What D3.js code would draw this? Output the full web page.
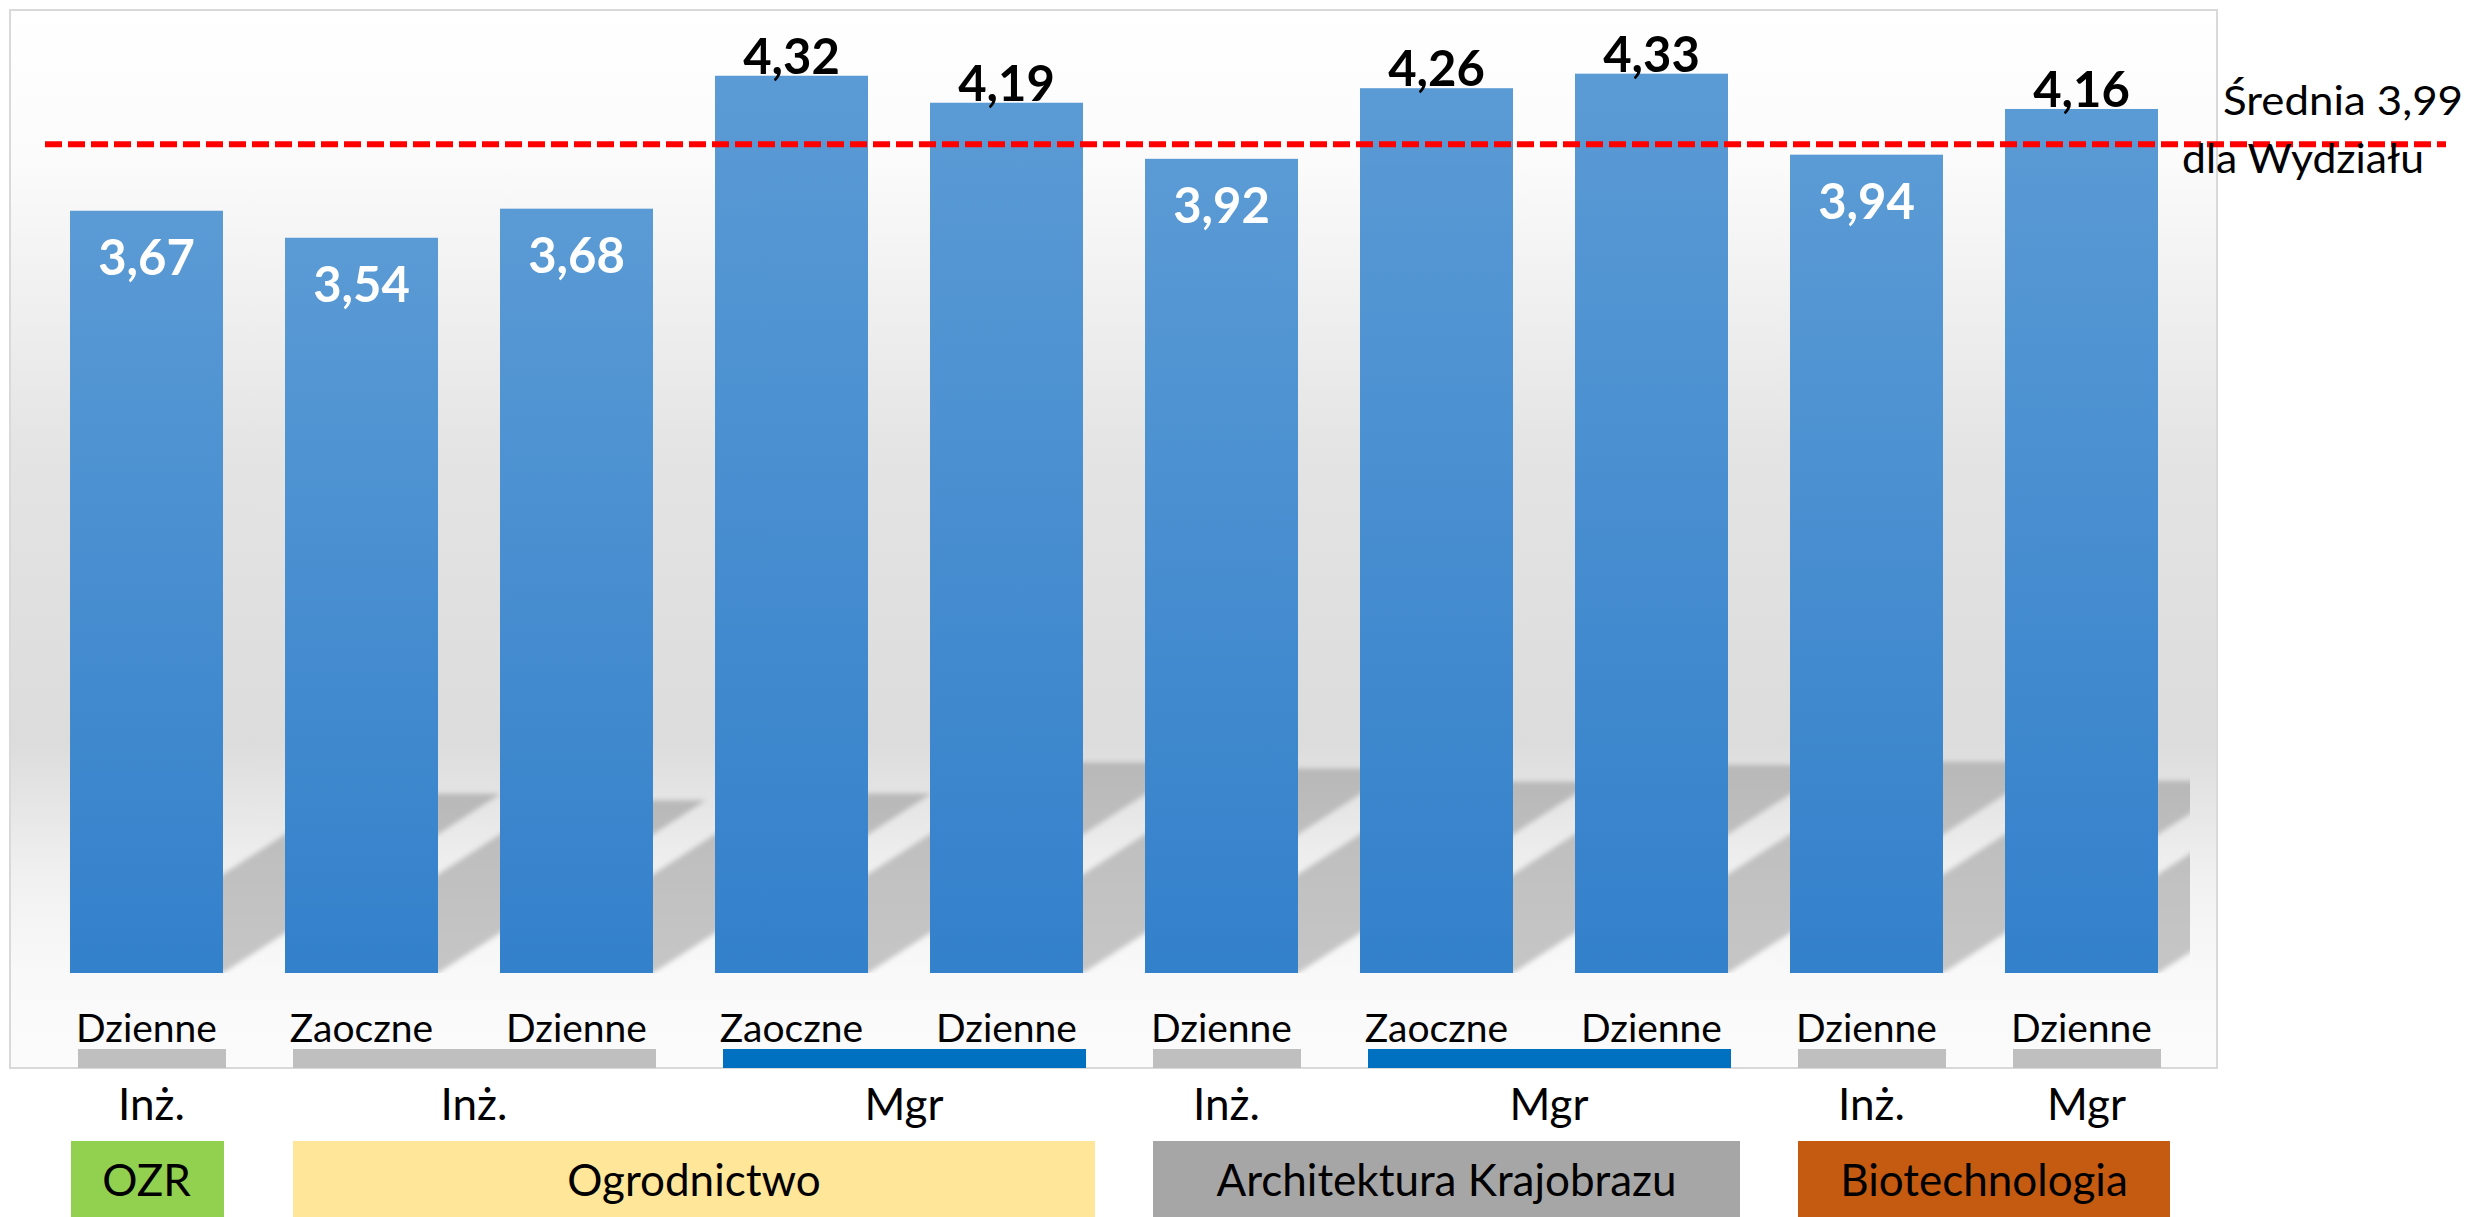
<!DOCTYPE html>
<html>
<head>
<meta charset="utf-8">
<script src="https://cdn.jsdelivr.net/npm/d3@7"></script>
<style>
  body { margin: 0; background: #fff; }
  svg { display: block; font-family: Lato, "Open Sans", sans-serif; }
</style>
</head>
<body>
<svg id="chart" width="2468" height="1217"></svg>
<script>
// data
var categories = ["Dzienne", "Zaoczne", "Dzienne", "Zaoczne", "Dzienne", "Dzienne", "Zaoczne", "Dzienne", "Dzienne", "Dzienne"];
var values = [3.67, 3.54, 3.68, 4.32, 4.19, 3.92, 4.26, 4.33, 3.94, 4.16];
var average = 3.99;
var averageLabel = ["Średnia 3,99", "dla Wydziału"];

var levelLabels = ["Inż.", "Inż.", "Mgr", "Inż.", "Mgr", "Inż.", "Mgr"];
var levelStart = [0, 1, 3, 5, 6, 8, 9];
var levelEnd = [0, 2, 4, 5, 7, 8, 9];

var fields = ["OZR", "Ogrodnictwo", "Architektura Krajobrazu", "Biotechnologia"];
var fieldStart = [0, 1, 5, 8];
var fieldEnd = [0, 4, 7, 9];

// styles
var fieldColors = ["#92D050", "#FFE699", "#A6A6A6", "#C55A11"];
var levelColors = ["#BFBFBF", "#BFBFBF", "#0070C0", "#BFBFBF", "#0070C0", "#BFBFBF", "#BFBFBF"];

var svg = d3.select("#chart");
var defs = svg.append("defs");

var plot = {left: 10, top: 10, right: 2217, bottom: 1068};
var baseY = 973;

var x = d3.scaleBand().domain(d3.range(values.length)).range([39, 2189])
    .paddingInner(0.2884).paddingOuter(0.1442);
var y = d3.scaleLinear().domain([0, 4.5]).range([baseY, baseY - 4.5 * 207.7]);
var bw = x.bandwidth();

// background gradient of the plot area
var bg = defs.append("linearGradient").attr("id", "bg")
    .attr("gradientUnits", "userSpaceOnUse")
    .attr("x1", 0).attr("y1", plot.top).attr("x2", 0).attr("y2", plot.bottom);
[[plot.top, "#ffffff"], [160, "#fbfbfb"], [450, "#e4e4e4"], [740, "#dcdcdc"], [880, "#f1f1f1"], [baseY, "#f9f9f9"], [plot.bottom, "#fbfbfb"]]
    .forEach(function(s) {
        bg.append("stop").attr("offset", (s[0] - plot.top) / (plot.bottom - plot.top)).attr("stop-color", s[1]);
    });

var barGrad = defs.append("linearGradient").attr("id", "barGrad")
    .attr("x1", 0).attr("y1", 0).attr("x2", 0).attr("y2", 1);
barGrad.append("stop").attr("offset", 0).attr("stop-color", "#5B9BD5");
barGrad.append("stop").attr("offset", 1).attr("stop-color", "#3380CB");

var shGrad = defs.append("linearGradient").attr("id", "shGrad")
    .attr("x1", 0).attr("y1", 0).attr("x2", 0).attr("y2", 1);
shGrad.append("stop").attr("offset", 0).attr("stop-color", "#b8b8b8");
shGrad.append("stop").attr("offset", 0.35).attr("stop-color", "#bfbfbf");
shGrad.append("stop").attr("offset", 1).attr("stop-color", "#c6c6c6");

defs.append("filter").attr("id", "blur")
    .attr("x", "-20%").attr("y", "-20%").attr("width", "140%").attr("height", "140%")
    .append("feGaussianBlur").attr("stdDeviation", 2.5);

defs.append("clipPath").attr("id", "plotClip")
    .append("rect").attr("x", plot.left).attr("y", plot.top)
    .attr("width", 2190 - plot.left).attr("height", baseY - plot.top);

// plot area
svg.append("rect")
    .attr("x", plot.left).attr("y", plot.top)
    .attr("width", plot.right - plot.left).attr("height", plot.bottom - plot.top)
    .attr("fill", "url(#bg)")
    .attr("stroke", "#d9d9d9").attr("stroke-width", 2);

// perspective shadows
var shear = 1.55;
svg.append("g").attr("clip-path", "url(#plotClip)")
    .selectAll("polygon").data(values).enter().append("polygon")
    .attr("points", function(d, i) {
        var hs = (baseY - y(d)) * 0.235;
        var x0 = x(i), x1 = x(i) + bw, dx = hs * shear;
        return [[x0, baseY], [x1, baseY], [x1 + dx, baseY - hs], [x0 + dx, baseY - hs]].join(" ");
    })
    .attr("fill", "url(#shGrad)")
    .attr("filter", "url(#blur)");

// bars
svg.selectAll("rect.bar").data(values).enter().append("rect")
    .attr("class", "bar")
    .attr("x", (d, i) => x(i))
    .attr("y", d => y(d))
    .attr("width", bw)
    .attr("height", d => baseY - y(d))
    .attr("fill", "url(#barGrad)");

// value labels
svg.selectAll("text.val").data(values).enter().append("text")
    .attr("class", "val")
    .attr("x", (d, i) => x(i) + bw / 2)
    .attr("y", d => d < average ? y(d) + 64 : y(d) - 2)
    .attr("text-anchor", "middle")
    .attr("font-size", "49px")
    .attr("font-weight", "bold")
    .attr("fill", d => d < average ? "#fff" : "#000")
    .text(d => d.toFixed(2).replace(".", ","));

// average line
svg.append("line")
    .attr("x1", 45).attr("x2", 2446)
    .attr("y1", y(average)).attr("y2", y(average))
    .attr("stroke", "#ff0000").attr("stroke-width", 6)
    .attr("stroke-dasharray", "17,6");

svg.append("text")
    .attr("x", 2223).attr("y", y(average) - 29)
    .attr("font-size", "40px").attr("textLength", 240).attr("lengthAdjust", "spacingAndGlyphs")
    .text(averageLabel[0]);
svg.append("text")
    .attr("x", 2182).attr("y", y(average) + 29)
    .attr("font-size", "40px").attr("textLength", 242).attr("lengthAdjust", "spacingAndGlyphs")
    .text(averageLabel[1]);

// category labels
svg.selectAll("text.cat").data(categories).enter().append("text")
    .attr("class", "cat")
    .attr("x", (d, i) => x(i) + bw / 2)
    .attr("y", 1042)
    .attr("text-anchor", "middle")
    .attr("font-size", "39px")
    .text(d => d);

// study level bars and labels
var lv = svg.append("g").selectAll("g").data(levelLabels).enter().append("g");
lv.append("rect")
    .attr("x", (d, i) => x(levelStart[i]) + 8)
    .attr("y", 1049)
    .attr("width", (d, i) => x(levelEnd[i]) + bw - x(levelStart[i]) - 5)
    .attr("height", 19)
    .attr("fill", (d, i) => levelColors[i]);
lv.append("text")
    .attr("x", (d, i) => (x(levelStart[i]) + x(levelEnd[i]) + bw) / 2 + 5)
    .attr("y", 1120)
    .attr("text-anchor", "middle")
    .attr("font-size", "44px")
    .text(d => d);

// field boxes
var fg = svg.append("g").selectAll("g").data(fields).enter().append("g");
fg.append("rect")
    .attr("x", (d, i) => x(fieldStart[i]) + (i ? 8 : 1))
    .attr("y", 1141)
    .attr("width", (d, i) => x(fieldEnd[i]) + bw - x(fieldStart[i]) + (i ? 4 : 0))
    .attr("height", 1217 - 1141)
    .attr("fill", (d, i) => fieldColors[i]);
fg.append("text")
    .attr("x", (d, i) => (x(fieldStart[i]) + x(fieldEnd[i]) + bw) / 2 + (i ? 10 : 0))
    .attr("y", 1196)
    .attr("text-anchor", "middle")
    .attr("font-size", "44px")
    .text(d => d);
</script>
</body>
</html>
